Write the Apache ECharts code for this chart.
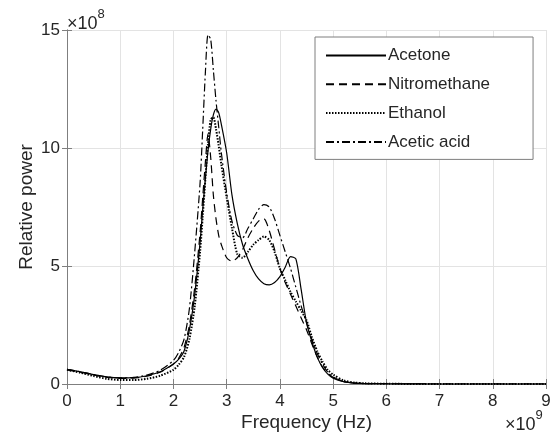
<!DOCTYPE html>
<html>
<head>
<meta charset="utf-8">
<script src="https://cdn.jsdelivr.net/npm/echarts@6/dist/echarts.min.js"></script>
<style>
  html, body { margin: 0; padding: 0; background: #fff; }
  #chart { width: 554px; height: 439px; }
</style>
</head>
<body>
<div id="chart"></div>
<script>
// frequency in units of 1e9 Hz, power in units of 1e8
const freq = [0, 0.25, 0.5, 0.75, 1, 1.25, 1.5, 1.75, 2, 2.1, 2.2, 2.3, 2.4, 2.5, 2.55, 2.6, 2.65, 2.7, 2.75, 2.8, 2.85, 2.9, 3.0, 3.1, 3.2, 3.3, 3.4, 3.5, 3.6, 3.7, 3.8, 3.9, 4.0, 4.1, 4.2, 4.3, 4.4, 4.5, 4.6, 4.7, 4.8, 4.9, 5.0, 5.2, 5.4, 5.6, 6, 7, 8, 9];

const acetone = [0.62, 0.52, 0.4, 0.3, 0.26, 0.27, 0.35, 0.52, 0.85, 1.05, 1.4, 2.3, 3.8, 6.0, 7.4, 8.7, 9.9, 10.8, 11.4, 11.65, 11.5, 11.0, 9.8, 8.0, 6.8, 5.9, 5.3, 4.8, 4.45, 4.25, 4.2, 4.3, 4.55, 4.95, 5.4, 5.3, 4.0, 2.6, 1.8, 1.15, 0.7, 0.42, 0.25, 0.1, 0.04, 0.02, 0.01, 0, 0, 0];

const nitromethane = [0.6, 0.5, 0.38, 0.28, 0.24, 0.25, 0.33, 0.5, 0.85, 1.1, 1.55, 2.5, 4.1, 6.4, 7.9, 9.4, 10.6, 9.6, 8.0, 7.0, 6.3, 5.9, 5.35, 5.2, 5.35, 5.7, 6.2, 6.6, 6.9, 7.0, 6.5, 5.7, 4.9, 4.3, 3.8, 3.3, 2.8, 2.3, 1.7, 1.15, 0.72, 0.45, 0.28, 0.1, 0.04, 0.02, 0.01, 0, 0, 0];

const ethanol = [0.6, 0.48, 0.34, 0.22, 0.17, 0.17, 0.22, 0.35, 0.6, 0.82, 1.15, 1.9, 3.3, 5.6, 7.1, 8.7, 10.2, 11.2, 11.3, 10.8, 10.1, 9.3, 7.9, 6.6, 5.5, 5.35, 5.6, 5.9, 6.1, 6.25, 6.1, 5.6, 4.9, 4.4, 3.9, 3.5, 3.1, 2.7, 2.0, 1.4, 0.95, 0.6, 0.4, 0.15, 0.06, 0.03, 0.01, 0, 0, 0];

const aceticAcid = [0.62, 0.52, 0.4, 0.3, 0.26, 0.28, 0.38, 0.58, 1.0, 1.35, 1.9, 3.2, 5.6, 8.5, 10.8, 13.2, 14.8, 14.6, 13.3, 12.0, 10.9, 9.8, 8.1, 6.9, 6.3, 6.2, 6.6, 7.0, 7.4, 7.6, 7.5, 7.0, 6.3, 5.6, 4.9, 4.1, 3.3, 2.6, 1.9, 1.3, 0.85, 0.5, 0.3, 0.11, 0.04, 0.02, 0.01, 0, 0, 0];

const seriesNames = ["Acetone", "Nitromethane", "Ethanol", "Acetic acid"];
const seriesData = [acetone, nitromethane, ethanol, aceticAcid];
const lineTypes = ["solid", [8, 5], [1.5, 1.5], [8, 3, 2, 3]];
const lineWidths = [1.2, 1.2, 2, 1.2];

const chart = echarts.init(document.getElementById("chart"));

const font = "Liberation Sans, Arial, sans-serif";
const axisColor = "#7f7f7f";
const textColor = "#262626";

function pairs(values){
    return freq.map((f, i) => [f, values[i]]);
}

const series = seriesNames.map((name, i) => ({
    name: name,
    type: "line",
    data: pairs(seriesData[i]),
    smooth: 0.25,
    showSymbol: false,
    symbol: "none",
    animation: false,
    lineStyle: { color: "#000", width: lineWidths[i], type: lineTypes[i] },
    itemStyle: { color: "#000" }
}));

const boxAxis = {
    axisLine: { show: true, lineStyle: { color: axisColor, width: 1 } },
    axisTick: { show: true, inside: true, length: 5, lineStyle: { color: axisColor } },
    axisLabel: { show: false },
    splitLine: { show: false }
};

const powerText = {
    a: { fontSize: 18, fontFamily: font, fill: textColor, padding: [7, 0, 0, 0] },
    b: { fontSize: 13, fontFamily: font, fill: textColor, verticalAlign: "top" }
};

chart.setOption({
    animation: false,
    textStyle: { fontFamily: font },
    grid: { left: 67, right: 8, top: 30, bottom: 55 },
    legend: {
        orient: "vertical",
        left: 315,
        top: 37,
        padding: [10, 43, 9, 10],
        itemWidth: 60,
        itemHeight: 14,
        itemGap: 11.8,
        backgroundColor: "#fff",
        borderColor: axisColor,
        borderWidth: 1,
        itemStyle: { opacity: 0 },
        textStyle: { fontSize: 17, color: textColor, fontFamily: font, padding: [0, 0, 0, -3] },
        data: seriesNames
    },
    xAxis: [
        {
            type: "value",
            min: 0,
            max: 9,
            interval: 1,
            name: "Frequency (Hz)",
            nameLocation: "middle",
            nameGap: 29,
            nameMoveOverlap: false,
            nameTextStyle: { fontSize: 19, color: textColor },
            axisLine: { show: true, onZero: false, lineStyle: { color: axisColor } },
            axisTick: { inside: true, length: 5, lineStyle: { color: axisColor } },
            axisLabel: { fontSize: 17, color: textColor, margin: 9 },
            splitLine: { show: true, lineStyle: { color: "#e3e3e3" } }
        },
        Object.assign({ type: "value", position: "top", min: 0, max: 9, interval: 1 }, boxAxis)
    ],
    yAxis: [
        {
            type: "value",
            min: 0,
            max: 15,
            interval: 5,
            name: "Relative power",
            nameLocation: "middle",
            nameGap: 31,
            nameMoveOverlap: false,
            nameRotate: 90,
            nameTextStyle: { fontSize: 19, color: textColor },
            axisLine: { show: true, onZero: false, lineStyle: { color: axisColor } },
            axisTick: { inside: true, length: 5, lineStyle: { color: axisColor } },
            axisLabel: { fontSize: 17, color: textColor, margin: 7 },
            splitLine: { show: true, lineStyle: { color: "#e3e3e3" } }
        },
        Object.assign({ type: "value", position: "right", min: 0, max: 15, interval: 5 }, boxAxis)
    ],
    graphic: [
        {
            type: "text",
            left: 67,
            top: 8,
            style: { text: "{a|×10}{b|8}", rich: powerText }
        },
        {
            type: "text",
            left: 505,
            top: 409,
            style: { text: "{a|×10}{b|9}", rich: powerText }
        }
    ],
    series: series
});
</script>
</body>
</html>
